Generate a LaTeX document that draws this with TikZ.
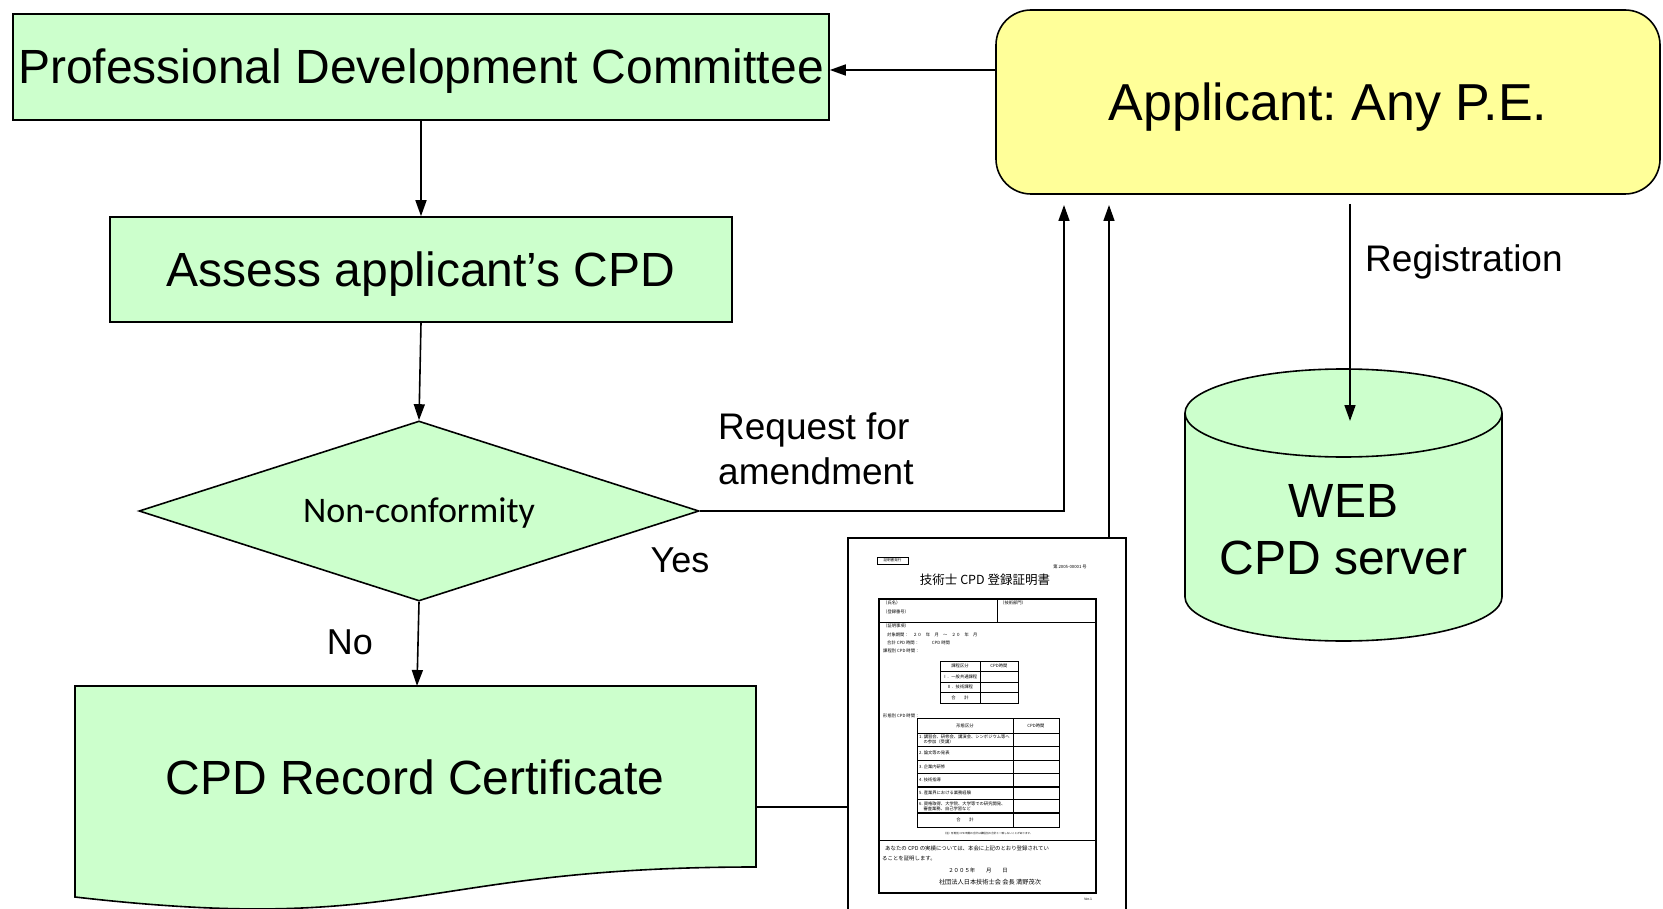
\documentclass[tikz,border=0pt]{standalone}
\usepackage{fontspec}
\setmainfont{Liberation Sans}
\newfontfamily\carl{Carlito}
\newfontfamily\jpf{Noto Sans CJK JP}
\usetikzlibrary{shapes.geometric,arrows.meta,calc}
\definecolor{pdgreen}{HTML}{CCFFCC}
\definecolor{pdyellow}{HTML}{FFFF99}
\frenchspacing
\newcommand{\pdbig}{\fontsize{48}{57}\selectfont}
\newcommand{\pdmid}{\fontsize{37}{45}\selectfont}
\newcommand{\jtiny}{\jpf\fontsize{4.3}{5}\selectfont}
\tikzset{
  box/.style={draw, line width=1.6pt, fill=pdgreen, inner sep=0pt},
  arr/.style={line width=1.6pt, -{Triangle[length=16pt,width=11pt]}},
  conn/.style={line width=1.6pt},
  lbl/.style={inner sep=0pt, font=\pdmid},
  jt/.style={inner sep=0pt, font=\jtiny, anchor=west},
  jc/.style={inner sep=0pt, font=\jtiny},
}
\begin{document}
\begin{tikzpicture}[x=1pt,y=-1pt]
\fill[white] (0,0) rectangle (1663,909);
\useasboundingbox (0,0) rectangle (1663,909);

% main boxes
\node[box, minimum width=816pt, minimum height=106pt, text height=34pt, text depth=0pt, font=\pdbig] (pdc) at (421,67) {Professional Development Committee};
\node[box, minimum width=622pt, minimum height=105pt, text height=34pt, text depth=0pt, font=\pdbig] (assess) at (421,269.5) {Assess applicant’s CPD};
\node[box, diamond, aspect=3.11, minimum width=560pt, minimum height=180pt, text height=23pt, text depth=0pt, font=\carl\fontsize{36}{40}\selectfont] (dia) at (419,511) {Non-conformity};
\node[draw, fill=pdyellow, line width=1.6pt, rounded corners=35pt, minimum width=664pt, minimum height=184pt, inner sep=0pt, text height=37pt, text depth=0pt, font=\fontsize{52}{58}\selectfont] (app) at (1328,102) {Applicant: Any P.E.};

% document shape
\draw[box] (75,686) -- (756,686) -- (756,867) .. controls (415.5,867) and (415.5,936) .. (75,897) -- cycle;
\node[inner sep=0pt, font=\pdbig] (rec) at (415,777) {CPD Record Certificate};
\coordinate (recN) at (417,686);
\coordinate (recE) at (756,807);

% cylinder
\fill[pdgreen] (1185,413) rectangle (1502,597);
\fill[pdgreen] (1343.5,597) ellipse [x radius=158.5, y radius=44];
\draw[line width=1.6pt] (1185,413) -- (1185,597) arc[start angle=180, end angle=0, x radius=158.5, y radius=44] -- (1502,413);
\draw[line width=1.6pt, fill=pdgreen] (1343.5,413) ellipse [x radius=158.5, y radius=44];
\node[inner sep=0pt, align=center, font=\pdbig] (web) at (1343.5,529.5) {WEB\\CPD server};
\coordinate (webTop) at (1350,421);

% coordinates
\coordinate (yA) at (0,70);
\coordinate (amendCorner) at (1064,511);
\coordinate (amendUp) at (1064,205);
\coordinate (certTop) at (1109,538);
\coordinate (certUp) at (1109,205);
\coordinate (regStart) at (1350,204);
\coordinate (certL) at (848,807);

% connectors
\draw[arr] (app.west |- yA) -- (pdc.east |- yA);
\draw[arr] (pdc.south) -- (assess.north);
\draw[arr] (assess.south) -- (dia.north);
\draw[arr] (dia.south) -- (recN);
\draw[arr] (dia.east) -- (amendCorner) -- (amendUp);
\draw[arr] (certTop) -- (certUp);
\draw[arr] (regStart) -- (webTop);
\draw[conn] (recE) -- (certL);

% labels
\node[lbl, anchor=west, align=left] (req) at (718,448.5) {Request for\\amendment};
\node[lbl, anchor=west] (reg) at (1365,262) {Registration};
\node[lbl, font=\fontsize{36}{40}\selectfont] (yes) at (680,560) {Yes};
\node[lbl, font=\fontsize{36}{40}\selectfont] (no) at (350,642) {No};

% certificate picture
\draw[line width=1.8pt] (848,912) -- (848,538) -- (1126,538) -- (1126,912);
\draw[line width=0.6pt] (877,557) rectangle (908,564);
\node[jc, font=\jpf\fontsize{3.6}{4}\selectfont] (c1) at (892.5,560.5) {証明書発行};
\node[jc] (c2) at (1070,567) {第 2005-00001 号};
\node[jc, font=\jpf\fontsize{12.5}{13}\selectfont] (c3) at (985,580) {技術士 CPD 登録証明書};
\draw[line width=1.2pt] (879,599) rectangle (1096,893);
\draw[line width=1pt] (879,622) -- (1096,622);
\draw[line width=1pt] (997,599) -- (997,622);
\node[jt] (c4) at (883,603) {（氏名）};
\node[jt] (c5) at (883,612) {（登録番号）};
\node[jt] (c6) at (1000,603) {（技術部門）};
\node[jt] (c7) at (883,626) {（証明事項）};
\node[jt] (c8) at (887,635) {対象期間：　２０　年　月　～　２０　年　月};
\node[jt] (c9) at (887,643) {合計 CPD 時間：　　　CPD 時間};
\node[jt] (c10) at (883,651) {課程別 CPD 時間：};
% table 1
\draw[line width=0.7pt] (940,661) rectangle (1018,703);
\draw[line width=0.7pt] (980,661) -- (980,703);
\foreach \yy in {671,682,692} {\draw[line width=0.6pt] (940,\yy) -- (1018,\yy);}
\node[jc] (t1a) at (960,666) {課程区分};
\node[jc] (t1b) at (999,666) {CPD時間};
\node[jc] (t1c) at (960,676.5) {Ⅰ．一般共通課程};
\node[jc] (t1d) at (960,687) {Ⅱ．技術課程};
\node[jc] (t1e) at (960,697.5) {合　　計};
\node[jt] (c11) at (883,716) {形態別 CPD 時間：};
% table 2
\draw[line width=0.7pt] (917,718) rectangle (1059,827);
\draw[line width=0.7pt] (1013,718) -- (1013,827);
\foreach \yy in {733,746,760,773,799} {\draw[line width=0.6pt] (917,\yy) -- (1059,\yy);}
\foreach \yy in {787,813} {\draw[line width=1.1pt] (917,\yy) -- (1059,\yy);}
\node[jc] (t2a) at (965,725.5) {形態区分};
\node[jc] (t2b) at (1036,725.5) {CPD時間};
\node[jt, align=left] (t2c) at (919,739.5) {1. 講習会、研修会、講演会、シンポジウム等へ\\　の参加（受講）};
\node[jt] (t2d) at (919,753) {2. 論文等の発表};
\node[jt] (t2e) at (919,766.5) {3. 企業内研修};
\node[jt] (t2f) at (919,780) {4. 技術指導};
\node[jt] (t2g) at (919,793) {5. 産業界における業務経験};
\node[jt, align=left] (t2h) at (919,806) {6. 資格取得、大学院、大学等での研究開発、\\　審査業務、自己学習など};
\node[jc] (t2i) at (965,820) {合　　計};
\node[jc, font=\jpf\fontsize{2.6}{3}\selectfont] (c12) at (988,834) {（注）形態別 CPD 時間の合計は課程別の合計と一致しないことがあります。};
\draw[line width=1pt] (879,840) -- (1096,840);
\node[jt, font=\jpf\fontsize{5.4}{6}\selectfont] (c13) at (885,848) {あなたの CPD の実績については、本会に上記のとおり登録されてい};
\node[jt, font=\jpf\fontsize{5.4}{6}\selectfont] (c14) at (882,859) {ることを証明します。};
\node[jc, font=\jpf\fontsize{5.4}{6}\selectfont] (c15) at (978,870) {２００５年　　月　　日};
\node[jc, font=\jpf\fontsize{6.2}{7}\selectfont] (c16) at (990,882) {社団法人日本技術士会 会長 満野茂次};
\node[jc, font=\fontsize{3.5}{4}\selectfont] (c17) at (1088,899) {Ver.1};
\end{tikzpicture}
\end{document}
